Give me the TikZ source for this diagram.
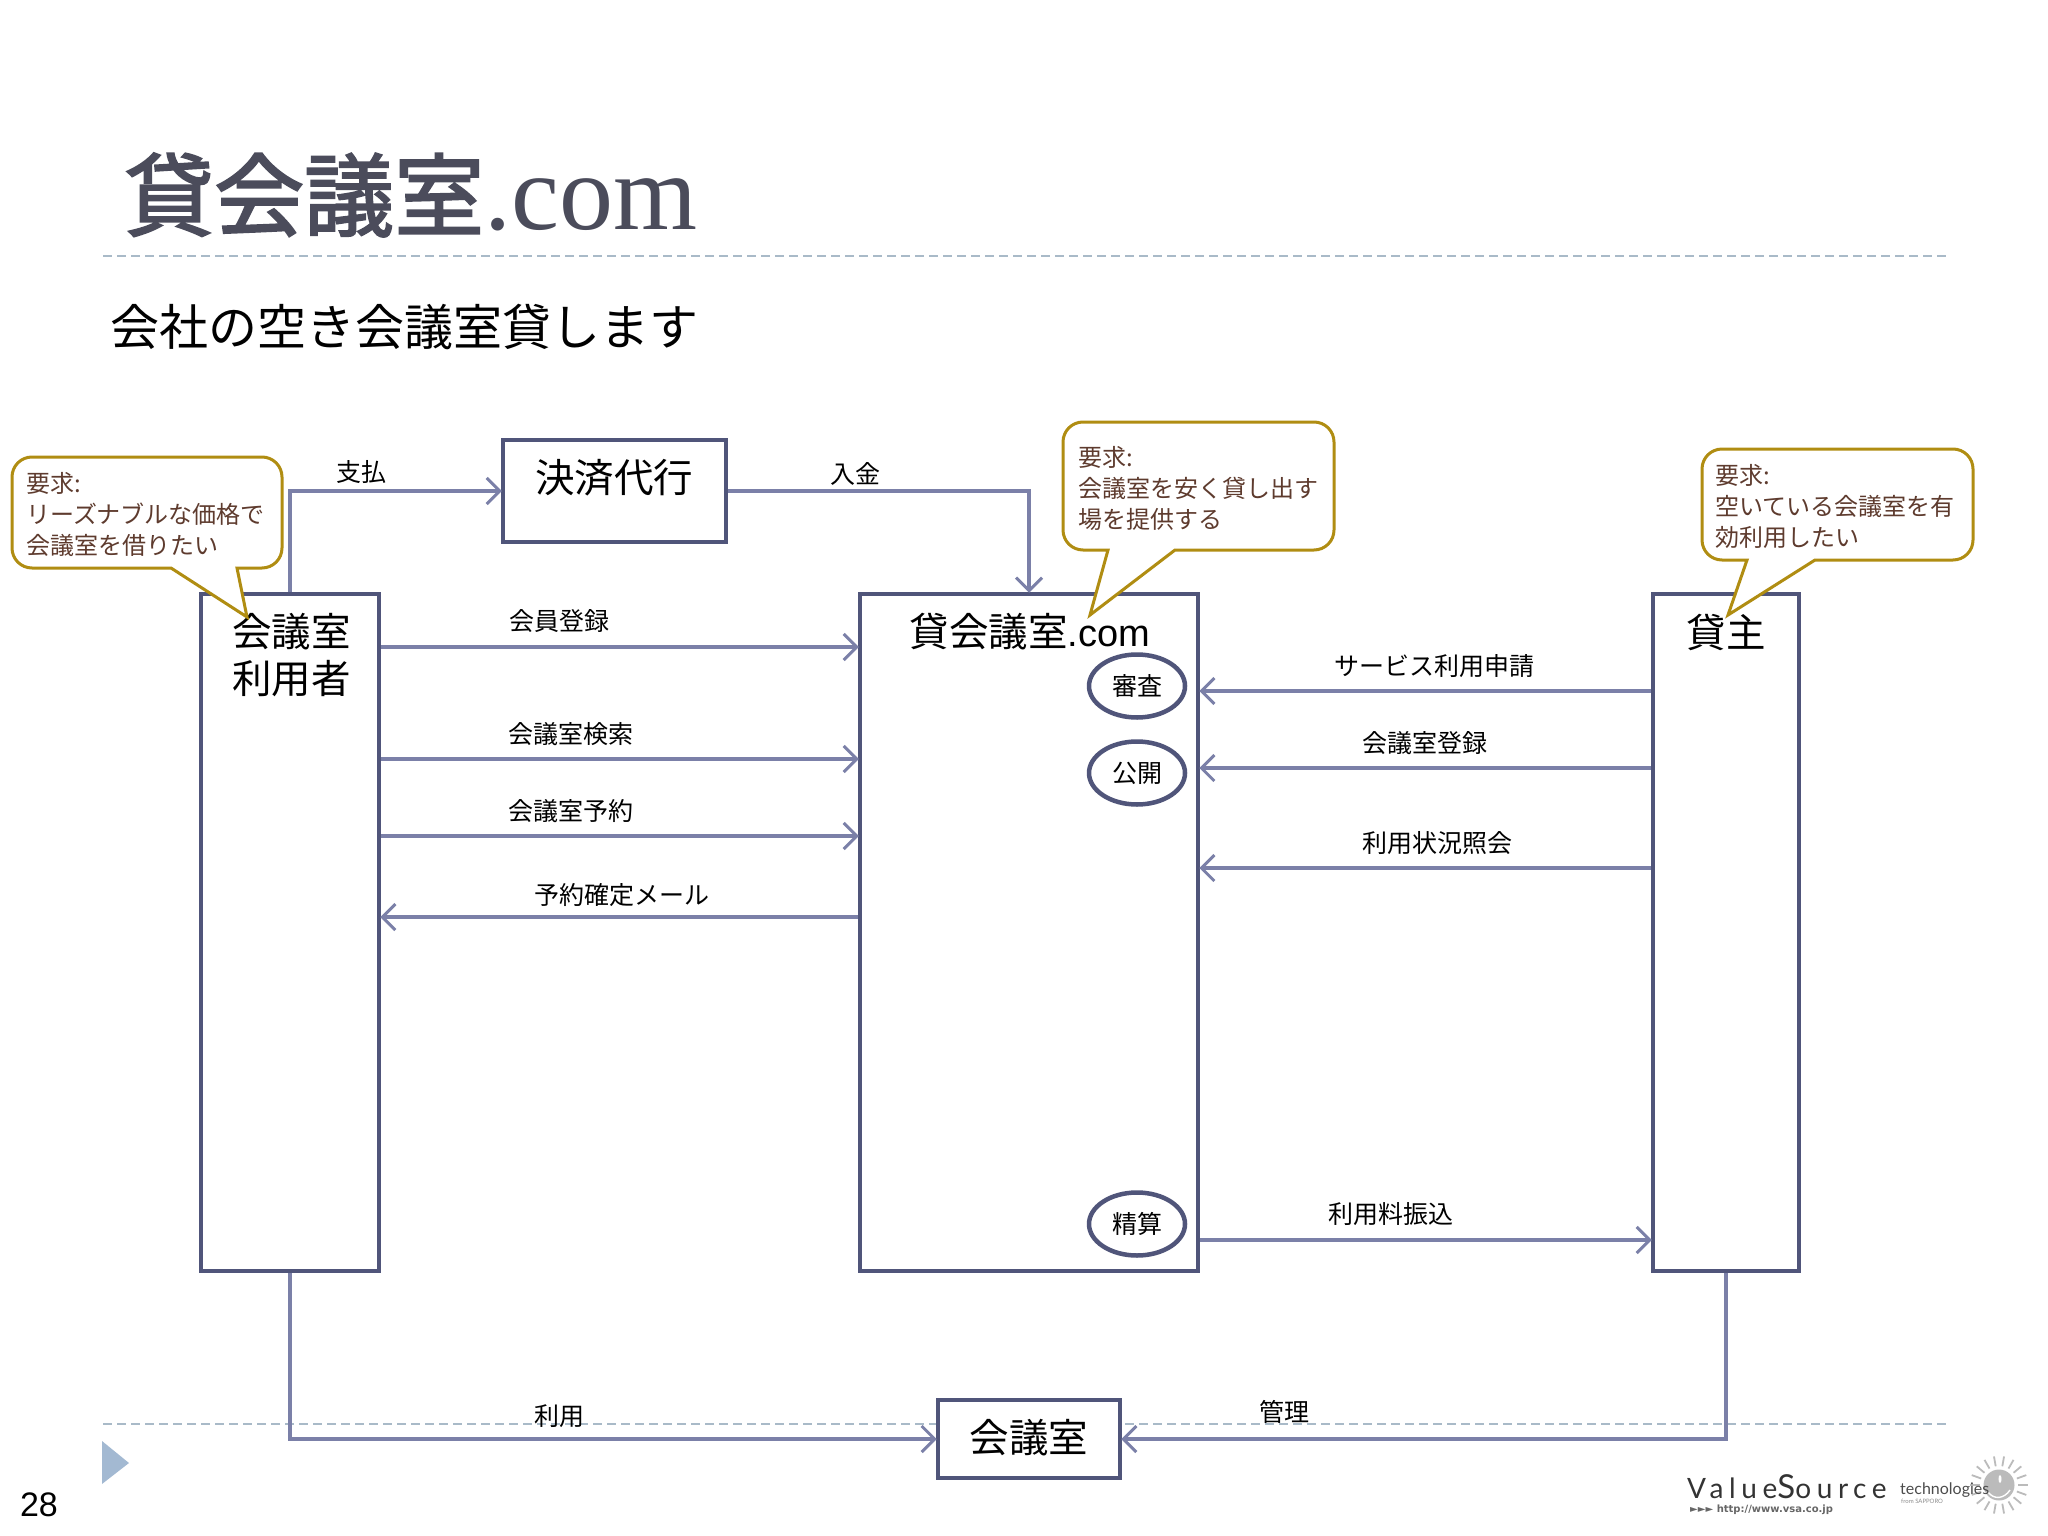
\documentclass[tikz,border=0pt]{standalone}
\usepackage{fontspec}
\usetikzlibrary{shapes.geometric,arrows.meta}
\setmainfont{Noto Sans CJK JP}
\newfontfamily\titlecjk[FakeBold=2.2]{Noto Sans CJK JP}
\newfontfamily\latinsans{Liberation Sans}
\newfontfamily\latinserif{Liberation Serif}
\newfontfamily\logofont{Lato}
\newfontfamily\urlfont{DejaVu Sans}
\definecolor{boxline}{HTML}{50557A}
\definecolor{flowline}{HTML}{7B80A8}
\definecolor{calloutline}{HTML}{B08D12}
\definecolor{callouttext}{HTML}{5E3B2E}
\definecolor{ruleline}{HTML}{A9BAC8}
\definecolor{markfill}{HTML}{A3B9D2}
\definecolor{titlegray}{HTML}{4B4C5B}
\definecolor{sungray}{HTML}{BBBBBB}
\tikzset{
  box/.style={draw=boxline,line width=4.5pt,fill=white,inner sep=0pt},
  stepoval/.style={draw=boxline,line width=4.5pt,fill=white,ellipse,inner sep=0pt,minimum width=96pt,minimum height=63pt},
  flow/.style={draw=flowline,line width=3.1pt,shorten >=-1pt,-{Straight Barb[length=13pt,width=26pt,line width=3pt]}},
  rulebar/.style={draw=ruleline,line width=2.2pt,dash pattern=on 9pt off 5pt},
  callout/.style={draw=calloutline,line width=3pt,fill=white},
  lbl/.style={font=\fontsize{25}{31}\selectfont,inner sep=0pt},
  boxlbl/.style={font=\fontsize{39.5}{47}\selectfont,inner sep=0pt,align=center},
  note/.style={font=\fontsize{24}{31}\selectfont,text=callouttext,inner sep=0pt,align=left,anchor=north west}
}
\begin{document}
\begin{tikzpicture}[x=1pt,y=-1pt]
    \useasboundingbox (0,0) rectangle (2048,1536);

    \draw (124,229) node (Title) [anchor=base west,inner sep=0pt,text=titlegray] {\fontsize{90}{100}\selectfont\titlecjk 貸会議室\fontsize{108}{100}\selectfont\latinserif .com};
    \draw (110,345) node (Sub) [anchor=base west,inner sep=0pt] {\fontsize{49}{58}\selectfont 会社の空き会議室貸します};

    \coordinate (RuleTopL) at (103,256);
    \coordinate (RuleTopR) at (1947,256);
    \coordinate (RuleLowL) at (103,1424);
    \coordinate (RuleLowR) at (1947,1424);
    \draw[rulebar] (RuleTopL) to (RuleTopR);
    \draw[rulebar] (RuleLowL) to (RuleLowR);

    \fill[fill=markfill] (102,1441) -- (129,1463) -- (102,1484) -- cycle;
    \draw (39,1505) node (PageNo) [inner sep=0pt] {\fontsize{34}{40}\selectfont\latinsans 28};

    \node (Pay) at (614.5,491) [box,minimum width=223pt,minimum height=102pt] {};
    \draw (614,478) node (PayLbl) [boxlbl] {決済代行};

    \node (User) at (290,932.5) [box,minimum width=178pt,minimum height=677pt] {};
    \draw (291.5,655) node (UserLbl) [boxlbl] {会議室\\利用者};

    \node (Main) at (1029,932.5) [box,minimum width=338pt,minimum height=677pt] {};
    \draw (1030,632) node (MainLbl) [boxlbl] {貸会議室{\latinsans\fontsize{38}{47}\selectfont .com}};

    \node (Owner) at (1726,932.5) [box,minimum width=146pt,minimum height=677pt] {};
    \draw (1726,632) node (OwnerLbl) [boxlbl] {貸主};

    \node (Room) at (1029,1439) [box,minimum width=182pt,minimum height=78pt] {};
    \draw (1029,1438) node (RoomLbl) [boxlbl] {会議室};

    \node (Check) at (1137,686) [stepoval,lbl] {審査};
    \node (Open) at (1137,773) [stepoval,lbl] {公開};
    \node (Settle) at (1137,1224) [stepoval,lbl] {精算};

    \draw[flow] (User.north) |- (Pay.west);
    \draw[flow] (Pay.east) -| (Main.north);
    \draw[flow] (User.east |- 0,647) to (Main.west |- 0,647);
    \draw[flow] (User.east |- 0,759) to (Main.west |- 0,759);
    \draw[flow] (User.east |- 0,836) to (Main.west |- 0,836);
    \draw[flow] (Main.west |- 0,917) to (User.east |- 0,917);
    \draw[flow] (Owner.west |- 0,691) to (Main.east |- 0,691);
    \draw[flow] (Owner.west |- 0,768) to (Main.east |- 0,768);
    \draw[flow] (Owner.west |- 0,868) to (Main.east |- 0,868);
    \draw[flow] (Main.east |- 0,1240) to (Owner.west |- 0,1240);
    \draw[flow] (User.south) |- (Room.west);
    \draw[flow] (Owner.south) |- (Room.east);

    \draw (361,472) node (PayArrow) [lbl] {支払};
    \draw (855,474) node (InArrow) [lbl] {入金};
    \draw (559,621) node (JoinArrow) [lbl] {会員登録};
    \draw (571,734) node (SearchArrow) [lbl] {会議室検索};
    \draw (571,811) node (BookArrow) [lbl] {会議室予約};
    \draw (622,895) node (MailArrow) [lbl] {予約確定メール};
    \draw (1434,666) node (ApplyArrow) [lbl] {サービス利用申請};
    \draw (1425,743) node (EntryArrow) [lbl] {会議室登録};
    \draw (1437,843) node (StatusArrow) [lbl] {利用状況照会};
    \draw (1391,1214) node (FeeArrow) [lbl] {利用料振込};
    \draw (559,1416) node (UseArrow) [lbl] {利用};
    \draw (1284,1412) node (AdminArrow) [lbl] {管理};

    \draw[callout] (171,568) [rounded corners=20pt] -- (12,568) -- (12,457) -- (282,457) -- (282,568) [sharp corners] -- (237,568) -- (247,617) -- cycle;
    \node (UserNote) at (26,472) [note] {要求:\\リーズナブルな価格で\\会議室を借りたい};

    \draw[callout] (1108,550) [rounded corners=20pt] -- (1063,550) -- (1063,422) -- (1334,422) -- (1334,550) [sharp corners] -- (1175,550) -- (1090,615) -- cycle;
    \node (MainNote) at (1078,446) [note] {要求:\\会議室を安く貸し出す\\場を提供する};

    \draw[callout] (1747,560) [rounded corners=20pt] -- (1702,560) -- (1702,449) -- (1973,449) -- (1973,560) [sharp corners] -- (1815,560) -- (1728,615) -- cycle;
    \node (OwnerNote) at (1715,464) [note] {要求:\\空いている会議室を有\\効利用したい};

    \fill[sungray] (1999,1485) circle (15.5);
    \foreach \ang in {0,20,...,340}
      \draw[sungray,line width=1.8pt] (1999,1485) ++(\ang:19) -- ++(\ang:10);
    \fill[white] (2000,1479) ellipse (1.5 and 4);
    \draw[white,line width=1.4pt] (1988,1492) .. controls (1994,1500) and (2004,1499) .. (2010,1490);
    \draw (1687,1487) node (LogoName) [anchor=west,inner sep=0pt,text=black!80] {\fontsize{28}{30}\selectfont\logofont\addfontfeature{LetterSpace=20}Value{\fontsize{33}{30}\selectfont S}ource};
    \draw (1690,1510) node (LogoUrl) [anchor=west,inner sep=0pt,text=black!60] {\fontsize{10}{11}\selectfont\urlfont\bfseries ►►► http://www.vsa.co.jp};
    \draw (1900,1490) node (LogoTech) [anchor=west,inner sep=0pt,text=black!70] {\fontsize{16}{17}\selectfont\logofont technologies};
    \draw (1901,1501) node (LogoFrom) [anchor=west,inner sep=0pt,text=black!45] {\fontsize{6}{7}\selectfont\logofont from SAPPORO};
\end{tikzpicture}
\end{document}
